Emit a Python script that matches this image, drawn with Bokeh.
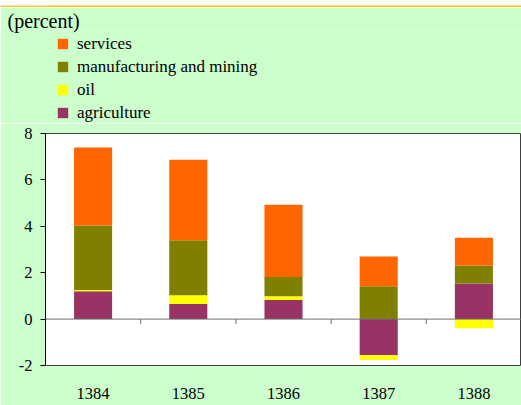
import numpy as np
from bokeh.plotting import figure
from bokeh.layouts import column
from bokeh.models import (ColumnDataSource, Legend, LegendItem, Span, FixedTicker, Range1d)
from bokeh.embed import file_html
from bokeh.resources import INLINE

# ---- data ----
years = [1384, 1385, 1386, 1387, 1388]
agriculture = [1.20, 0.65, 0.82, -1.56, 1.53]
oil = [0.05, 0.38, 0.17, -0.20, -0.39]
manufacturing = [2.78, 2.37, 0.82, 1.42, 0.78]
services = [3.37, 3.47, 3.12, 1.28, 1.20]
series_names = ["agriculture", "oil", "manufacturing and mining", "services"]
series_values = [agriculture, oil, manufacturing, services]
series_colors = ["#993366", "#FFFF00", "#808000", "#FF6600"]
y_ticks = [-2, 0, 2, 4, 6, 8]
unit_label = "(percent)"

FONT = "Liberation Serif"
GREEN = "#CCFFCC"
ORANGE = "#FFC000"
W = 521
H_BAND = 7
H_HEAD = 116
H_MAIN = 405 - H_BAND - H_HEAD
ML, MB, MT = 45, 40, 10
NO_SHRINK = {"flex-shrink": "0"}


def stack(values_list):
    pos_base = np.zeros(len(years))
    neg_base = np.zeros(len(years))
    out = []
    for vals in values_list:
        v = np.array(vals, dtype=float)
        bottom = np.where(v >= 0, pos_base, neg_base + v)
        top = np.where(v >= 0, pos_base + v, neg_base)
        pos_base = np.where(v >= 0, pos_base + v, pos_base)
        neg_base = np.where(v < 0, neg_base + v, neg_base)
        out.append((bottom, top))
    return out


stacked = stack(series_values)

# ---------- orange band ----------
band = figure(width=W, height=H_BAND, min_height=H_BAND, output_backend="svg",
              toolbar_location=None, x_axis_location=None, y_axis_location=None, min_border=0,
              background_fill_color=ORANGE, border_fill_color=ORANGE, outline_line_color=None,
              styles=NO_SHRINK)
band.grid.visible = False
band.title.visible = False

# ---------- header: unit label (title) and legend ----------
head = figure(width=W, height=H_HEAD, min_height=H_HEAD, output_backend="svg",
              toolbar_location=None, x_axis_location=None, y_axis_location=None,
              x_range=Range1d(0, 1), y_range=Range1d(0, 1),
              min_border_top=0, min_border_left=0, min_border_right=0, min_border_bottom=0,
              background_fill_color=GREEN, border_fill_color=GREEN,
              outline_line_color=None, styles=NO_SHRINK)
head.grid.visible = False
head.title.text = unit_label
head.title.align = "left"
head.title.offset = 7 - ML
head.title.standoff = 0
head.title.text_font = FONT
head.title.text_font_size = "20px"
head.title.text_font_style = "normal"
head.title.text_color = "black"

# legend swatches: same series (outside the header's visible range)
swatches = []
for name, (bottom, top), col in zip(series_names, stacked, series_colors):
    r = head.vbar(x=years, bottom=bottom, top=top, width=0.4, fill_color=col, line_color=None)
    swatches.append((name, r))
items = [LegendItem(label=n, renderers=[r]) for n, r in reversed(swatches)]
legend = Legend(items=items, location=(56 - ML, 0), orientation="vertical",
                glyph_width=13, glyph_height=13, label_height=21, spacing=2,
                label_standoff=8, padding=0, margin=0, border_line_color=None,
                background_fill_alpha=0, label_text_font=FONT,
                label_text_font_size="17px", label_text_color="black")
head.add_layout(legend)

# ---------- main chart ----------
p = figure(width=W, height=H_MAIN, min_height=H_MAIN, output_backend="svg",
           toolbar_location=None,
           x_range=Range1d(years[0] - 0.5, years[-1] + 0.5), y_range=Range1d(y_ticks[0], y_ticks[-1]),
           min_border_left=ML, min_border_right=0, min_border_top=MT, min_border_bottom=MB,
           background_fill_color="white", border_fill_color=GREEN,
           outline_line_color="#404040", outline_line_width=1, styles=NO_SHRINK)
p.grid.visible = False

for (bottom, top), col in zip(stacked, series_colors):
    src = ColumnDataSource(dict(x=years, bottom=bottom, top=top))
    p.vbar(x="x", width=0.4, bottom="bottom", top="top", source=src,
           fill_color=col, line_color=None)

# zero line and ticks between categories
p.add_layout(Span(location=0, dimension="width", line_color="#707070", line_width=1))
mids = [y + 0.5 for y in years[:-1]]
p.ray(x=mids, y=[0] * len(mids), length=5, length_units="screen", angle=-np.pi / 2,
      line_color="#707070", line_width=1)

# category axis (labels only)
xa = p.xaxis[0]
xa.ticker = FixedTicker(ticks=years)
xa.major_tick_in = 0
xa.major_tick_out = 0
xa.minor_tick_line_color = None
xa.axis_line_color = None
xa.major_label_standoff = 22
xa.major_label_text_font = FONT
xa.major_label_text_font_size = "16.5px"
xa.major_label_text_color = "black"

ya = p.yaxis[0]
ya.ticker = FixedTicker(ticks=y_ticks)
ya.major_tick_in = 0
ya.major_tick_out = 5
ya.minor_tick_line_color = None
ya.axis_line_color = "black"
ya.major_tick_line_color = "black"
ya.major_label_standoff = 8
ya.major_label_overrides = {t: str(t) for t in y_ticks}
ya.major_label_text_font = FONT
ya.major_label_text_font_size = "16.5px"
ya.major_label_text_color = "black"

layout = column(band, head, p, spacing=0)
open("out.html", "w").write(file_html(layout, INLINE))
